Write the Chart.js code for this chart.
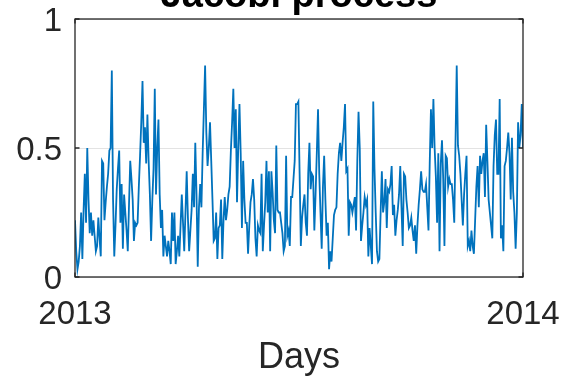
<!DOCTYPE html>
<html>
<head>
<meta charset="utf-8">
<script src="https://cdn.jsdelivr.net/npm/chart.js@4/dist/chart.umd.min.js"></script>
<style>
  html, body { margin: 0; padding: 0; background: #ffffff; }
  #wrap { width: 565px; height: 381px; }
</style>
</head>
<body>
<div id="wrap"><canvas id="chart" width="565" height="381"></canvas></div>
<script>
// Daily values of the simulated Jacobi process over one year
const jacobiValues = [
  0.22,0.10,0.03,0.06,0.12,0.25,0.07,0.26,0.40,0.21,
  0.50,0.30,0.17,0.25,0.16,0.22,0.16,0.10,0.12,0.23,
  0.15,0.08,0.45,0.44,0.22,0.29,0.35,0.40,0.49,0.50,
  0.80,0.30,0.08,0.20,0.34,0.42,0.49,0.21,0.36,0.11,
  0.32,0.25,0.18,0.10,0.28,0.45,0.38,0.30,0.14,0.21,
  0.20,0.21,0.35,0.47,0.60,0.76,0.52,0.58,0.44,0.63,
  0.45,0.32,0.14,0.30,0.42,0.73,0.32,0.50,0.61,0.32,
  0.19,0.26,0.08,0.16,0.12,0.08,0.14,0.10,0.05,0.25,
  0.14,0.25,0.05,0.10,0.16,0.08,0.20,0.32,0.21,0.10,
  0.25,0.41,0.23,0.10,0.18,0.26,0.40,0.27,0.52,0.32,
  0.04,0.27,0.36,0.27,0.48,0.65,0.82,0.56,0.43,0.50,
  0.60,0.45,0.30,0.14,0.15,0.25,0.07,0.19,0.20,0.30,
  0.07,0.22,0.31,0.22,0.26,0.32,0.35,0.49,0.60,0.73,
  0.50,0.65,0.29,0.50,0.67,0.48,0.19,0.45,0.30,0.21,
  0.21,0.09,0.20,0.29,0.32,0.38,0.30,0.15,0.08,0.20,
  0.18,0.17,0.40,0.10,0.20,0.29,0.45,0.25,0.41,0.10,
  0.41,0.33,0.22,0.17,0.51,0.26,0.25,0.25,0.21,0.17,
  0.10,0.12,0.47,0.16,0.18,0.12,0.31,0.31,0.38,0.45,
  0.67,0.67,0.68,0.40,0.12,0.23,0.28,0.32,0.21,0.16,
  0.40,0.52,0.34,0.40,0.39,0.18,0.32,0.48,0.65,0.40,
  0.25,0.11,0.35,0.47,0.30,0.16,0.21,0.03,0.10,0.06,
  0.15,0.24,0.26,0.27,0.40,0.48,0.52,0.45,0.52,0.58,
  0.67,0.41,0.42,0.16,0.29,0.28,0.25,0.28,0.31,0.18,
  0.45,0.64,0.50,0.14,0.20,0.25,0.31,0.28,0.30,0.08,
  0.19,0.12,0.05,0.68,0.42,0.25,0.10,0.06,0.07,0.25,
  0.41,0.25,0.29,0.38,0.19,0.34,0.33,0.36,0.43,0.24,
  0.28,0.16,0.22,0.26,0.32,0.43,0.27,0.12,0.40,0.39,
  0.30,0.25,0.19,0.20,0.23,0.18,0.14,0.20,0.09,0.20,
  0.28,0.34,0.41,0.34,0.33,0.33,0.36,0.27,0.18,0.44,
  0.65,0.50,0.69,0.50,0.39,0.21,0.48,0.10,0.44,0.53,
  0.38,0.12,0.47,0.46,0.35,0.38,0.36,0.36,0.30,0.21,
  0.52,0.82,0.51,0.47,0.40,0.30,0.20,0.32,0.40,0.47,
  0.12,0.14,0.10,0.18,0.12,0.09,0.22,0.35,0.43,0.27,
  0.47,0.40,0.45,0.48,0.31,0.59,0.45,0.30,0.25,0.20,
  0.15,0.43,0.55,0.61,0.40,0.40,0.69,0.15,0.20,0.10,
  0.43,0.45,0.50,0.56,0.48,0.30,0.54,0.33,0.25,0.11,
  0.25,0.60,0.50,0.55,0.67,0.50
];

// Year boundaries on the day axis and their labels
const yearTickDays = [0, 365];
const yearLabels = ['2013', '2014'];

// Value axis ticks
const yTickValues = [0, 0.5, 1];
const yTickLabels = ['0', '0.5', '1'];

const titleText = 'Jacobi process';
const xAxisTitle = 'Days';

const points = jacobiValues.map((v, i) => ({ x: i, y: v }));

const FONT = '"Liberation Sans", Arial, Helvetica, sans-serif';
const AXIS_COLOR = '#262626';

// Boxed axes with short inward tick marks
const boxPlugin = {
  id: 'boxAxes',
  afterDraw(chart) {
    const { ctx, chartArea: a, scales } = chart;
    ctx.save();
    ctx.strokeStyle = AXIS_COLOR;
    ctx.lineWidth = 1.3;
    ctx.strokeRect(a.left, a.top, a.right - a.left, a.bottom - a.top);
    const tl = 4.5;
    ctx.beginPath();
    yTickValues.forEach(v => {
      const y = scales.y.getPixelForValue(v);
      ctx.moveTo(a.left, y); ctx.lineTo(a.left + tl, y);
      ctx.moveTo(a.right, y); ctx.lineTo(a.right - tl, y);
    });
    yearTickDays.forEach(d => {
      const x = scales.x.getPixelForValue(d);
      ctx.moveTo(x, a.bottom); ctx.lineTo(x, a.bottom - tl);
      ctx.moveTo(x, a.top); ctx.lineTo(x, a.top + tl);
    });
    ctx.stroke();
    ctx.restore();
  }
};

new Chart(document.getElementById('chart'), {
  type: 'line',
  data: {
    datasets: [{
      data: points,
      borderColor: '#0072BD',
      borderWidth: 1.8,
      pointRadius: 0,
      tension: 0,
      fill: false
    }]
  },
  options: {
    responsive: false,
    animation: false,
    events: [],
    layout: { padding: { left: 0, right: 42, top: 0, bottom: 0 } },
    plugins: {
      legend: { display: false },
      tooltip: { enabled: false },
      title: {
        display: true,
        text: titleText,
        fullSize: false,
        color: '#000000',
        font: { family: FONT, size: 38, weight: 'bold', lineHeight: 1 },
        padding: { top: -22, bottom: 3 }
      }
    },
    scales: {
      x: {
        type: 'linear',
        min: yearTickDays[0],
        max: yearTickDays[1],
        afterBuildTicks(scale) {
          scale.ticks = yearTickDays.map(v => ({ value: v }));
        },
        afterFit(scale) { scale.height = 104; },
        grid: { display: false, drawTicks: true, tickLength: 18 },
        border: { display: false },
        ticks: {
          autoSkip: false,
          maxRotation: 0,
          padding: 0,
          color: AXIS_COLOR,
          font: { family: FONT, size: 33 },
          callback(value) {
            const i = yearTickDays.indexOf(value);
            return i >= 0 ? yearLabels[i] : '';
          }
        },
        title: {
          display: true,
          text: xAxisTitle,
          color: AXIS_COLOR,
          padding: { top: 0, bottom: 5 },
          font: { family: FONT, size: 36, lineHeight: 1 }
        }
      },
      y: {
        min: 0,
        max: 1,
        afterBuildTicks(scale) {
          scale.ticks = yTickValues.map(v => ({ value: v }));
        },
        afterFit(scale) { scale.width = 75; },
        grid: {
          color: '#e3e3e3',
          lineWidth: 1,
          drawTicks: true,
          tickLength: 13,
          tickColor: 'rgba(0,0,0,0)'
        },
        border: { display: false },
        ticks: {
          autoSkip: false,
          padding: 0,
          labelOffset: 3,
          color: AXIS_COLOR,
          font: { family: FONT, size: 33, lineHeight: 1 },
          callback(value) {
            const i = yTickValues.indexOf(value);
            return i >= 0 ? yTickLabels[i] : '';
          }
        }
      }
    }
  },
  plugins: [boxPlugin]
});
</script>
</body>
</html>
